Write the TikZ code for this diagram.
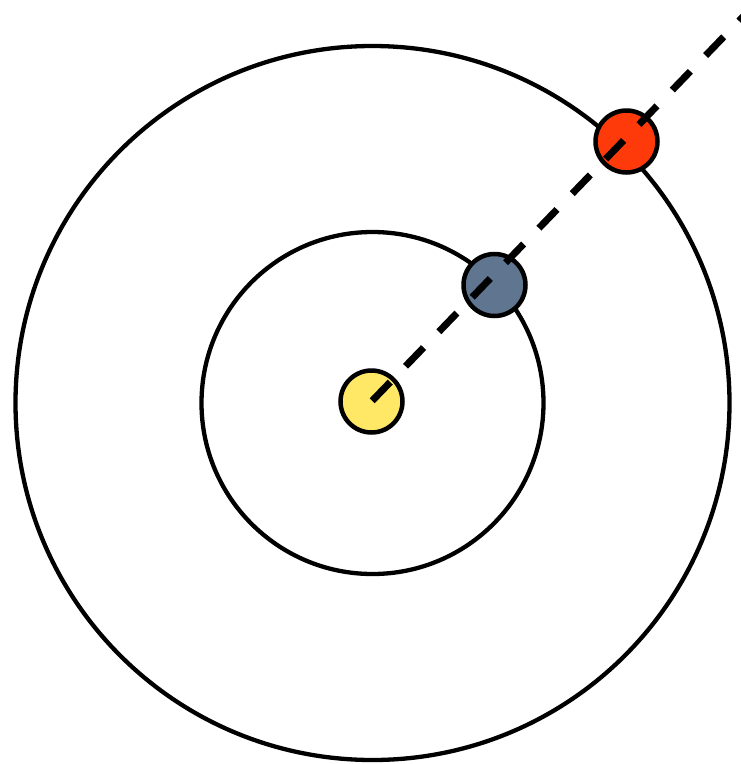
\documentclass[tikz,border=0pt]{standalone}
\begin{document}
\begin{tikzpicture}[x=1pt,y=-1pt,
  orbit/.style={draw=black,line width=4.3pt},
  planet/.style={circle,draw=black,line width=4.5pt,minimum size=62pt,inner sep=0pt},
  ray/.style={line width=7pt,dash pattern=on 26pt off 22pt,dash phase=47pt}]
\useasboundingbox (0,0) rectangle (741,764);
\coordinate (c) at (372.5,403);
\draw[orbit] (c) circle (357);
\draw[orbit] (c) circle (171);
\node[planet,fill={rgb,255:red,255;green,232;blue,102}] (sun) at (371.5,401.5) {};
\node[planet,fill={rgb,255:red,95;green,117;blue,144}] (blue) at (494.5,285) {};
\node[planet,fill={rgb,255:red,255;green,58;blue,10}] (red) at (626.5,141.5) {};
\coordinate (end) at (760.5,-1.3);
\draw[ray] (sun.center) -- (end);
\end{tikzpicture}
\end{document}
